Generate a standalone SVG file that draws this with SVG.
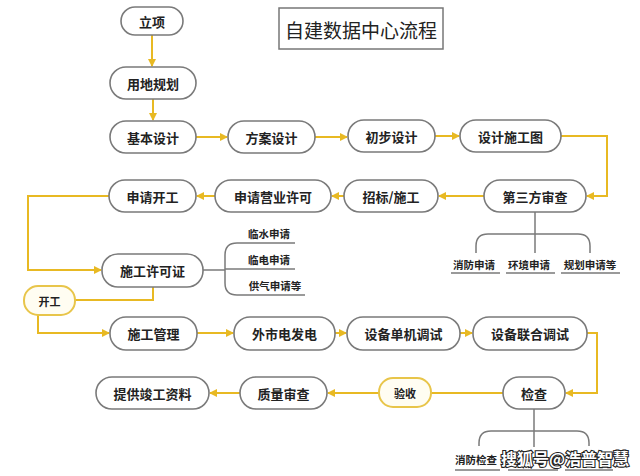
<svg xmlns="http://www.w3.org/2000/svg" width="640" height="476" viewBox="0 0 640 476">
<defs>
<style>
.n rect{fill:#fff;stroke:#7a7a7a;stroke-width:1.6}
.y rect{fill:#fffdf2;stroke:#e8c54a;stroke-width:2}
text{font-family:"Noto Sans CJK SC","Noto Sans",sans-serif;fill:#222;text-anchor:middle;dominant-baseline:central}
.n text,.y text{font-size:13px;font-weight:bold}
.s{font-size:10.5px;font-weight:bold}
.c path{fill:none;stroke:#e8b923;stroke-width:2}
.g path{fill:none;stroke:#7a7a7a;stroke-width:1.5}
</style>
<marker id="a" viewBox="0 0 8 8" refX="7" refY="4" markerWidth="8" markerHeight="8" markerUnits="userSpaceOnUse" orient="auto">
<path d="M0,0 L8,4 L0,8 z" fill="#e8b923"/>
</marker>
</defs>
<rect width="640" height="476" fill="#fff"/>
<g id="title"><rect x="279" y="8" width="164" height="41" fill="#fff" stroke="#777" stroke-width="1.5"/><text x="361" y="29" style="font-size:19px">自建数据中心流程</text></g>

<g class="c" id="connectors">
<path d="M152,35 V66" marker-end="url(#a)"/>
<path d="M153,99 V120" marker-end="url(#a)"/>
<path d="M196,137 H227" marker-end="url(#a)"/>
<path d="M315,137 H347" marker-end="url(#a)"/>
<path d="M435,136 H459" marker-end="url(#a)"/>
<path d="M561,136 H607 V196 H587" marker-end="url(#a)"/>
<path d="M484,196 H439" marker-end="url(#a)"/>
<path d="M344,196 H332" marker-end="url(#a)"/>
<path d="M215,196 H197" marker-end="url(#a)"/>
<path d="M109,196 H28 V270 H101" marker-end="url(#a)"/>
<path d="M153,287 V300 H75"/>
<path d="M38,315 V333 H109" marker-end="url(#a)"/>
<path d="M197,333 H233" marker-end="url(#a)"/>
<path d="M335,333 H346" marker-end="url(#a)"/>
<path d="M460,333 H472" marker-end="url(#a)"/>
<path d="M587,333 H597 V393 H566" marker-end="url(#a)"/>
<path d="M503,393 H431"/>
<path d="M379,393 H328" marker-end="url(#a)"/>
<path d="M240,393 H210" marker-end="url(#a)"/>
</g>

<g class="g" id="branches">
<path d="M203,270 H225"/>
<path d="M295,243 H237 Q225,243 225,255 V283 Q225,295 237,295 H305"/>
<path d="M225,269 H295"/>
<path d="M535,212 V253"/>
<path d="M476,253 V246 Q476,234 488,234 H578 Q590,234 590,246 V253"/>
<path d="M451,273 H500 M506,273 H555 M561,273 H620"/>
<path d="M534,409 V447"/>
<path d="M479,446 V443 Q479,431 491,431 H577 Q589,431 589,443 V446"/>
<path d="M455,470 H500 M508,470 H558 M565,470 H613"/>
</g>

<g id="labels">
<text class="s" x="269" y="233">临水申请</text>
<text class="s" x="269" y="259">临电申请</text>
<text class="s" x="275" y="285">供气申请等</text>
<text class="s" x="474" y="264">消防申请</text>
<text class="s" x="529" y="264">环境申请</text>
<text class="s" x="590" y="264">规划申请等</text>
<text class="s" x="476" y="459">消防检查</text>
</g>

<g class="n" id="n1"><rect x="121" y="7" width="62" height="28" rx="14"/><text x="152" y="21">立项</text></g>
<g class="n" id="n2"><rect x="110" y="67" width="86" height="32" rx="16"/><text x="153" y="83">用地规划</text></g>
<g class="n" id="n3"><rect x="110" y="121" width="86" height="32" rx="16"/><text x="153" y="137">基本设计</text></g>
<g class="n" id="n4"><rect x="228" y="121" width="87" height="32" rx="16"/><text x="271.5" y="137">方案设计</text></g>
<g class="n" id="n5"><rect x="348" y="120" width="87" height="32" rx="16"/><text x="391.5" y="136">初步设计</text></g>
<g class="n" id="n6"><rect x="460" y="120" width="101" height="32" rx="16"/><text x="510.5" y="136">设计施工图</text></g>
<g class="n" id="n7"><rect x="484" y="180" width="102" height="32" rx="16"/><text x="535" y="196">第三方审查</text></g>
<g class="n" id="n8"><rect x="344" y="180" width="94" height="32" rx="16"/><text x="391" y="196">招标/施工</text></g>
<g class="n" id="n9"><rect x="215" y="180" width="116" height="32" rx="16"/><text x="273" y="196">申请营业许可</text></g>
<g class="n" id="n10"><rect x="109" y="180" width="87" height="32" rx="16"/><text x="152.5" y="196">申请开工</text></g>
<g class="n" id="n11"><rect x="102" y="254" width="101" height="33" rx="16"/><text x="152.5" y="270.5">施工许可证</text></g>
<g class="y" id="n12"><rect x="24" y="286" width="51" height="29" rx="14"/><text x="49.5" y="300.5" style="font-size:11px">开工</text></g>
<g class="n" id="n13"><rect x="110" y="317" width="87" height="33" rx="16"/><text x="153.5" y="333.5">施工管理</text></g>
<g class="n" id="n14"><rect x="234" y="317" width="101" height="33" rx="16"/><text x="284.5" y="333.5">外市电发电</text></g>
<g class="n" id="n15"><rect x="347" y="317" width="113" height="33" rx="16"/><text x="403.5" y="333.5">设备单机调试</text></g>
<g class="n" id="n16"><rect x="473" y="317" width="114" height="33" rx="16"/><text x="530" y="333.5">设备联合调试</text></g>
<g class="n" id="n17"><rect x="503" y="377" width="62" height="32" rx="16"/><text x="534" y="393">检查</text></g>
<g class="y" id="n18"><rect x="379" y="378" width="52" height="29" rx="14"/><text x="405" y="392.5" style="font-size:11px">验收</text></g>
<g class="n" id="n19"><rect x="240" y="377" width="87" height="32" rx="16"/><text x="283.5" y="393">质量审查</text></g>
<g class="n" id="n20"><rect x="96" y="377" width="113" height="32" rx="16"/><text x="152.5" y="393">提供竣工资料</text></g>

<g id="watermark"><text x="565" y="458" style="font-size:16px;fill:#fff;stroke:#222;stroke-width:2.2px;paint-order:stroke;font-weight:bold">搜狐号@浩普智慧</text></g>
</svg>
